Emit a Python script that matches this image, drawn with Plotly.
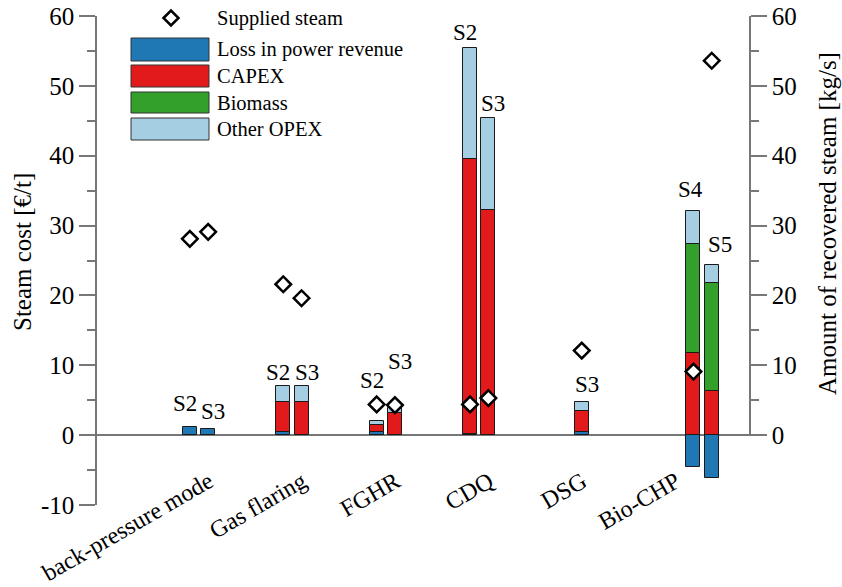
import plotly.graph_objects as go

# Technologies on the x axis and the scenario bars drawn for each of them
groups = ["back-pressure mode", "Gas flaring", "FGHR", "CDQ", "DSG", "Bio-CHP"]
bar_group = ["back-pressure mode", "back-pressure mode", "Gas flaring", "Gas flaring",
             "FGHR", "FGHR", "CDQ", "CDQ", "DSG", "Bio-CHP", "Bio-CHP"]
bar_scenario = ["S2", "S3", "S2", "S3", "S2", "S3", "S2", "S3", "S3", "S4", "S5"]

# Steam cost components [€/t]
loss_power = [1.2, 0.9, 0.38, 0.0, 0.38, 0.0, 0.2, 0.0, 0.45, -4.6, -6.1]
capex = [0.0, 0.0, 4.38, 4.76, 1.05, 3.1, 39.4, 32.3, 3.0, 11.8, 6.3]
biomass = [0.0, 0.0, 0.0, 0.0, 0.0, 0.0, 0.0, 0.0, 0.0, 15.5, 15.5]
other_opex = [0.0, 0.0, 2.24, 2.24, 0.62, 0.8, 15.8, 13.1, 1.35, 4.8, 2.6]

# Amount of recovered steam [kg/s]
supplied_steam = [28.1, 29.1, 21.6, 19.6, 4.4, 4.3, 4.4, 5.3, 12.1, 9.1, 53.6]

# Axis tick values
cost_ticks = [-10, 0, 10, 20, 30, 40, 50, 60]
steam_ticks = [0, 10, 20, 30, 40, 50, 60]

# ---- layout constants (pixels) ----
W, H = 842, 587
ML, MR, MT, MB = 97, 75, 16, 82
PW, PH = W - ML - MR, H - MT - MB
FONT = "Liberation Serif, Times New Roman, serif"
AXIS_GREY = "#777777"
EDGE = "#1a1a1a"

GROUP_PX = 93.4          # pixel distance between technology groups
FIRST_PX = 199 - ML      # first group centre, relative to plot left
slot = 18.3 / GROUP_PX   # distance between neighbouring scenario bars
bar_w = 14 / GROUP_PX
slot_offset = {"S2": -0.5, "S3": 0.5, "S4": 1.5, "S5": 2.5}

x_lo = -FIRST_PX / GROUP_PX
x_hi = x_lo + PW / GROUP_PX

bar_x = [groups.index(g) + slot_offset[s] * slot for g, s in zip(bar_group, bar_scenario)]


def px_x(x):
    return (x - ML) / PW


def px_y(y):
    return (MT + PH - y) / PH


def nz(values):
    return [v if v else None for v in values]


components = [
    ("Loss in power revenue", loss_power, "#1f78b4"),
    ("CAPEX", capex, "#e31a1c"),
    ("Biomass", biomass, "#33a02c"),
    ("Other OPEX", other_opex, "#a6cee3"),
]

fig = go.Figure()
for name, vals, color in components:
    fig.add_trace(go.Bar(
        x=bar_x, y=nz(vals), width=bar_w, name=name,
        marker=dict(color=color, line=dict(color=EDGE, width=1)),
        showlegend=False,
    ))

fig.add_trace(go.Scatter(
    x=bar_x, y=supplied_steam, yaxis="y2", mode="markers", name="Supplied steam",
    marker=dict(symbol="diamond", size=12, color="white", line=dict(color="black", width=2.5)),
    showlegend=False, cliponaxis=False,
))

# scenario labels above each bar
totals = [max(sum(v for v in (a, b, c, d) if v > 0), 0)
          for a, b, c, d in zip(loss_power, capex, biomass, other_opex)]
label_lift = [23, 17, 14, 14, 40, 46, 16, 14, 17, 21, 20]
label_shift = {"S2": -5, "S3": 5, "S4": -3, "S5": 8}
annotations = []
for x, t, s, lift in zip(bar_x, totals, bar_scenario, label_lift):
    annotations.append(dict(
        x=x, y=t, xref="x", yref="y", text=s, showarrow=False,
        xanchor="center", yanchor="middle", xshift=label_shift[s], yshift=lift,
        font=dict(family=FONT, size=23, color="black"),
    ))

# legend keys
shapes = []
key_x0, key_x1 = 131, 209
key_rows = [(38, 61), (65, 87), (92, 113), (118, 140)]
for (name, _, color), (y0, y1) in zip(components, key_rows):
    shapes.append(dict(
        type="rect", xref="paper", yref="paper",
        x0=px_x(key_x0), x1=px_x(key_x1), y0=px_y(y1), y1=px_y(y0),
        fillcolor=color, line=dict(color="#333333", width=1),
    ))
    annotations.append(dict(
        x=px_x(215), y=px_y((y0 + y1) / 2), xref="paper", yref="paper", text=name,
        showarrow=False, xanchor="left", yanchor="middle",
        font=dict(family=FONT, size=20.5, color="black"),
    ))
cx, cy, r = 171, 18, 7.5
diamond = "M {} {} L {} {} L {} {} L {} {} Z".format(
    px_x(cx - r), px_y(cy), px_x(cx), px_y(cy - r), px_x(cx + r), px_y(cy), px_x(cx), px_y(cy + r))
shapes.append(dict(type="path", xref="paper", yref="paper", path=diamond,
                   fillcolor="white", line=dict(color="black", width=2.5)))
annotations.append(dict(
    x=px_x(215), y=px_y(18), xref="paper", yref="paper", text="Supplied steam",
    showarrow=False, xanchor="left", yanchor="middle",
    font=dict(family=FONT, size=20.5, color="black"),
))

# axis titles
annotations.append(dict(
    x=px_x(22), y=px_y(252), xref="paper", yref="paper", text="Steam cost [€/t]",
    showarrow=False, textangle=-90, xanchor="center", yanchor="middle",
    font=dict(family=FONT, size=25, color="black"),
))
annotations.append(dict(
    x=px_x(828), y=px_y(224), xref="paper", yref="paper",
    text="Amount of recovered steam [kg/s]",
    showarrow=False, textangle=-90, xanchor="center", yanchor="middle",
    font=dict(family=FONT, size=25, color="black"),
))

tick_font = dict(family=FONT, size=25, color="black")
fig.update_layout(
    width=W, height=H,
    margin=dict(l=ML, r=MR, t=MT, b=MB),
    paper_bgcolor="white", plot_bgcolor="rgba(0,0,0,0)",
    barmode="relative", bargap=0,
    showlegend=False,
    font=dict(family=FONT, color="black"),
    xaxis=dict(
        range=[x_lo, x_hi], domain=[0, 1], automargin=False,
        tickmode="array", tickvals=list(range(len(groups))), ticktext=groups,
        tickangle=-30, tickfont=dict(family=FONT, size=24, color="black"),
        showline=False, showgrid=False, zeroline=False, ticks="",
        anchor="free", position=1 / 7, ticklabelstandoff=27, ticklabelshift=10,
    ),
    yaxis=dict(
        range=[-10, 60], domain=[0, 1], automargin=False,
        tickmode="array", tickvals=cost_ticks, ticktext=[str(v) for v in cost_ticks],
        showline=True, linecolor=AXIS_GREY, linewidth=1.5,
        ticks="outside", ticklen=16, tickwidth=1.5, tickcolor=AXIS_GREY,
        minor=dict(dtick=5, ticks="outside", ticklen=8, tickwidth=1.5, tickcolor=AXIS_GREY),
        showgrid=False, zeroline=True, zerolinecolor=AXIS_GREY, zerolinewidth=1.5,
        tickfont=tick_font,
    ),
    yaxis2=dict(
        range=[0, 60], domain=[1 / 7, 1], automargin=False,
        anchor="free", position=(750 - ML) / PW, side="right",
        tickmode="array", tickvals=steam_ticks, ticktext=[str(v) for v in steam_ticks],
        showline=True, linecolor=AXIS_GREY, linewidth=1.5,
        ticks="outside", ticklen=16, tickwidth=1.5, tickcolor=AXIS_GREY,
        minor=dict(dtick=5, ticks="outside", ticklen=8, tickwidth=1.5, tickcolor=AXIS_GREY),
        showgrid=False, zeroline=False,
        tickfont=tick_font,
    ),
    shapes=shapes,
    annotations=annotations,
)

fig.write_html("out.html")
